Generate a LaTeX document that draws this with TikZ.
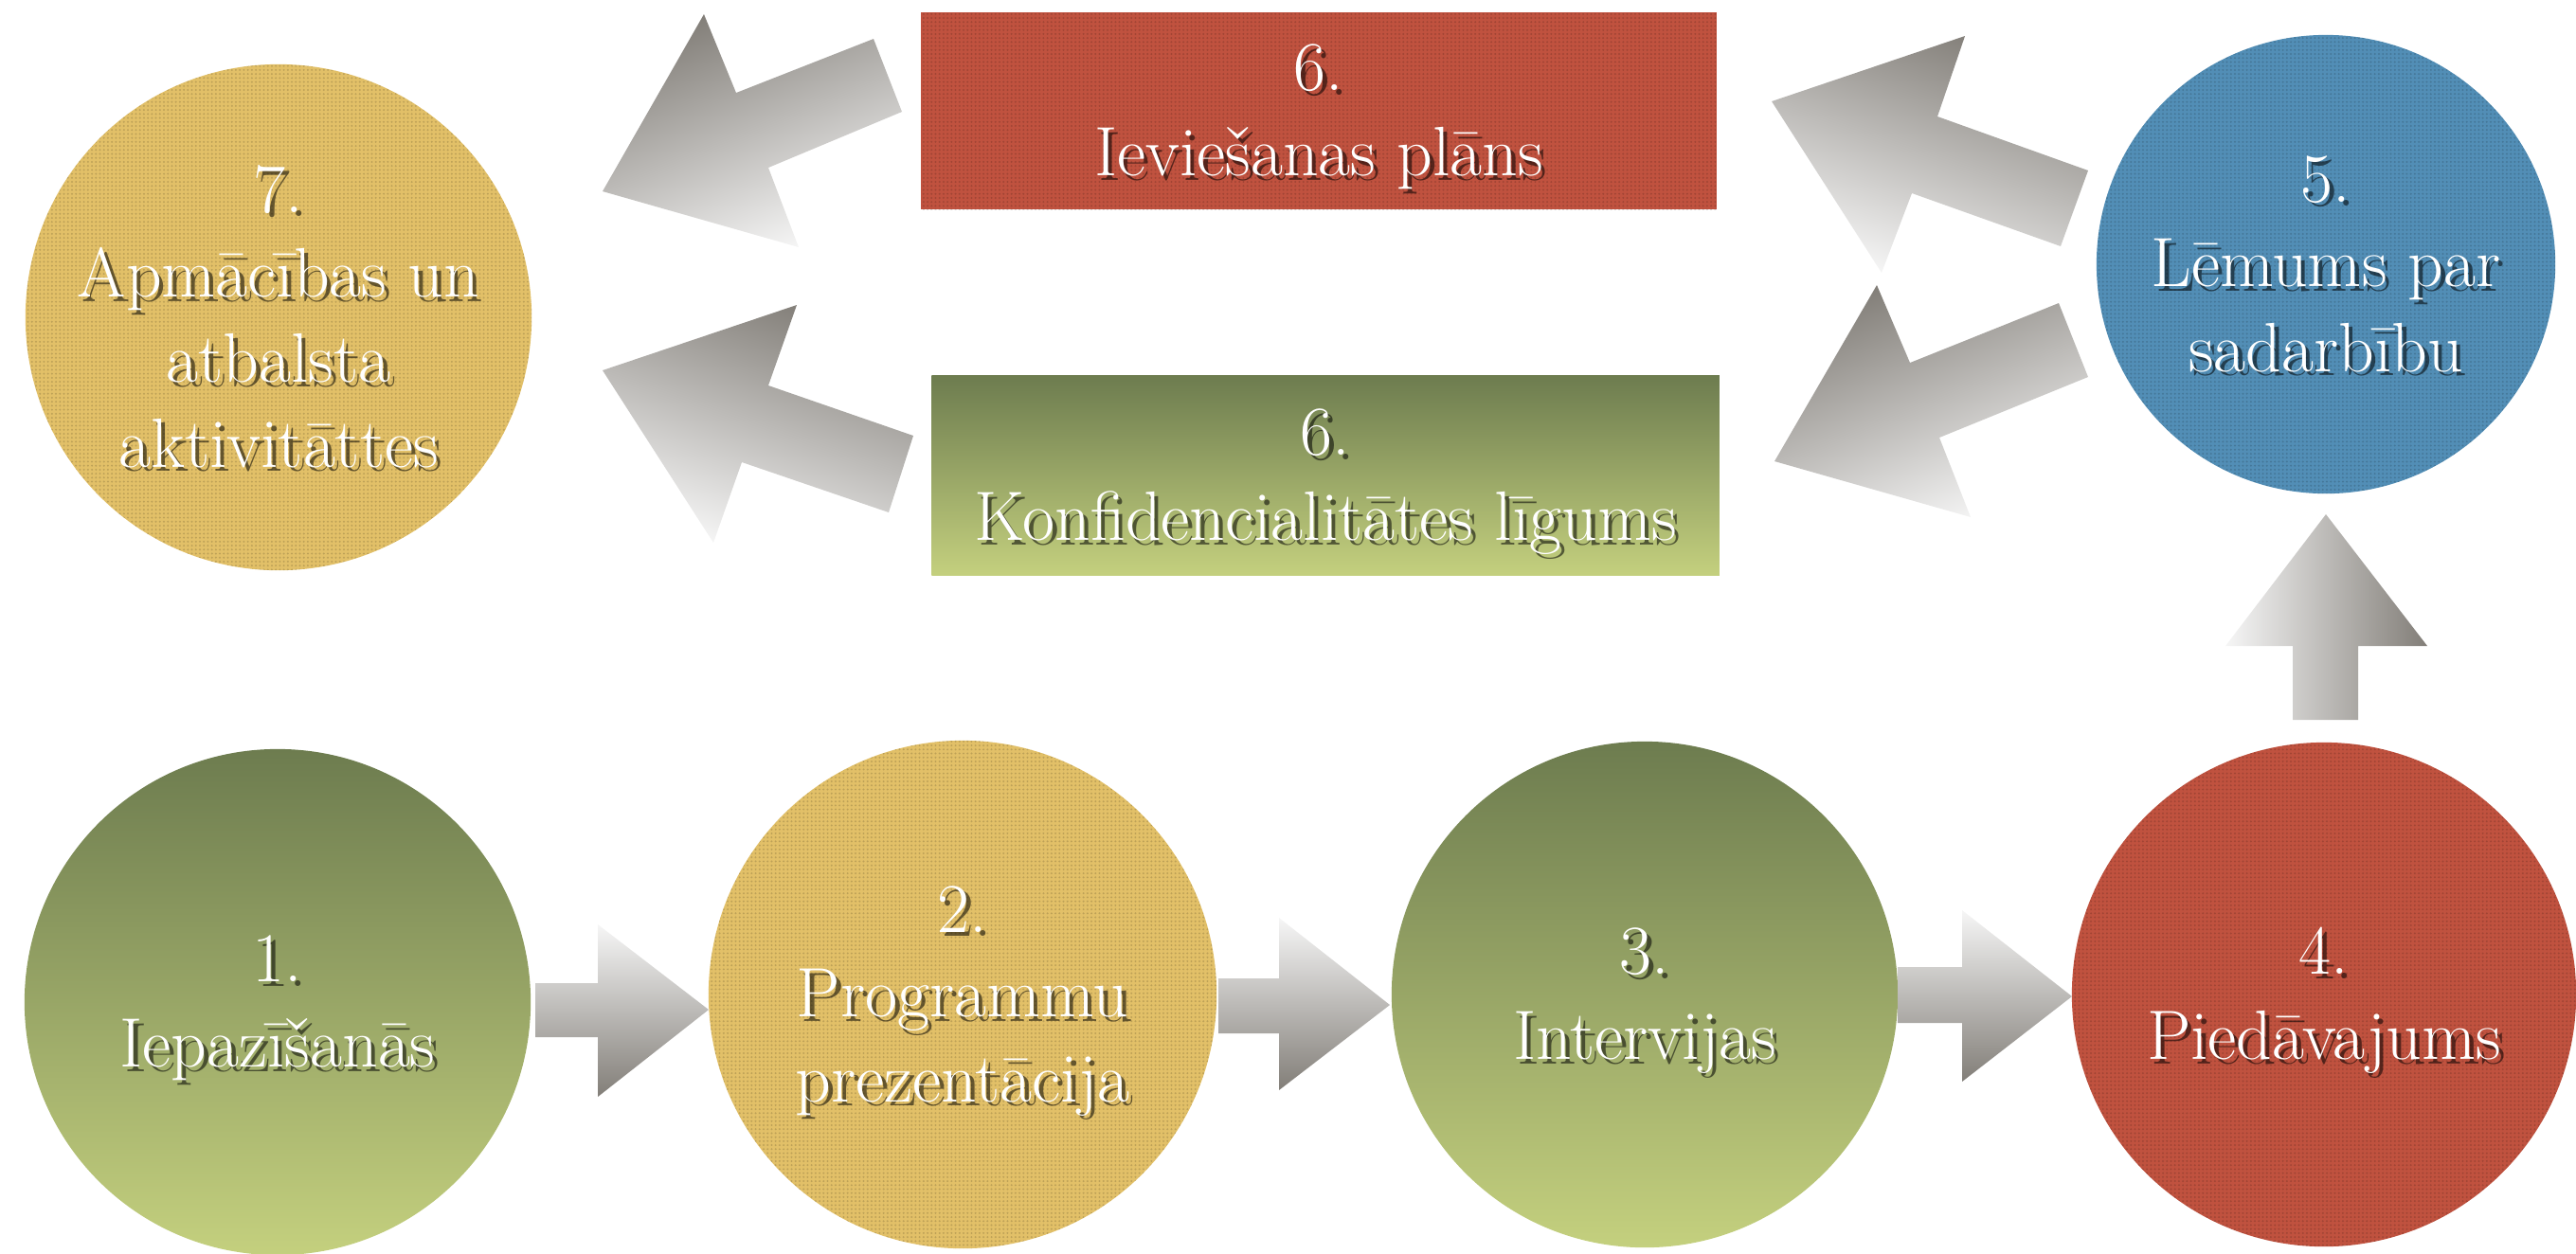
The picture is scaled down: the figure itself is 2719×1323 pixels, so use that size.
\documentclass[tikz,border=0pt]{standalone}
\usetikzlibrary{patterns}
\definecolor{yel}{RGB}{226,192,104}
\definecolor{redc}{RGB}{192,82,63}
\definecolor{bluec}{RGB}{82,142,182}
\definecolor{gtop}{RGB}{109,124,79}
\definecolor{gbot}{RGB}{196,208,126}
\definecolor{adark}{RGB}{130,126,120}
\definecolor{alight}{RGB}{246,246,246}
\pgfdeclarepatternformonly{finedots}{\pgfqpoint{-0.4pt}{-0.4pt}}{\pgfqpoint{0.4pt}{0.4pt}}{\pgfqpoint{1.2pt}{1.2pt}}{\pgfpathcircle{\pgfqpoint{0pt}{0pt}}{0.32pt}\pgfusepath{fill}}
\newcommand{\shtxt}[1]{\makebox[0pt][l]{\kern1.3pt\raisebox{-1.3pt}{\pgfsetfillopacity{0.55}\color{black}\begin{tabular}{@{}c@{}}#1\end{tabular}\pgfsetfillopacity{1}}}\begin{tabular}{@{}c@{}}#1\end{tabular}}
\tikzset{
  lbl/.style={text=white, font=\fontsize{21}{25.5}\selectfont, inner sep=0pt, yshift=-0.08cm},
  tex/.style={postaction={pattern=finedots, pattern color=black, fill opacity=0.16}},
  circ/.style={circle, inner sep=0pt, minimum size=#1},
  box/.style={rectangle, inner sep=0pt, minimum width=#1},
  ygrn/.style={top color=gtop, bottom color=gbot},
  hblk/.style={top color=alight, bottom color=adark},
  vblk/.style={left color=alight, right color=adark},
  dblk/.style={top color=adark, bottom color=alight, shading angle=#1},
}
\begin{document}
\begin{tikzpicture}[x=0.01cm, y=-0.01cm]
\useasboundingbox (0,0) rectangle (2719,1323);
% nodes
\node[circ=5.34cm, fill=yel, tex, label={[lbl]center:\shtxt{7.\\Apmācības un\\atbalsta\\aktivitāttes}}] (n7) at (294,335) {};
\node[box=8.4cm, minimum height=2.08cm, fill=redc, tex, label={[lbl]center:\shtxt{6.\\Ieviešanas plāns}}] (n6a) at (1392,117) {};
\node[box=8.31cm, minimum height=2.11cm, ygrn, label={[lbl]center:\shtxt{6.\\Konfidencialitātes līgums}}] (n6b) at (1399,502) {};
\node[circ=4.84cm, fill=bluec, tex, label={[lbl]center:\shtxt{5.\\Lēmums par\\sadarbību}}] (n5) at (2455,279) {};
\node[circ=5.34cm, ygrn, label={[lbl]center:\shtxt{1.\\Iepazīšanās}}] (n1) at (293,1058) {};
\node[circ=5.36cm, fill=yel, tex, label={[lbl]center:\shtxt{2.\\Programmu\\prezentācija}}] (n2) at (1016,1050) {};
\node[circ=5.34cm, ygrn, label={[lbl]center:\shtxt{3.\\Intervijas}}] (n3) at (1736,1050) {};
\node[circ=5.32cm, fill=redc, tex, label={[lbl]center:\shtxt{4.\\Piedāvajums}}] (n4) at (2453,1050) {};
% horizontal block arrows
\path[hblk] (565,1038) -- (631,1038) -- (631,976) -- (748,1066) -- (631,1158) -- (631,1095) -- (565,1095) -- cycle;
\path[hblk] (1286,1033) -- (1350,1033) -- (1350,969) -- (1467,1061) -- (1350,1151) -- (1350,1091) -- (1286,1091) -- cycle;
\path[hblk] (2003,1021) -- (2071,1021) -- (2071,961) -- (2187,1052) -- (2071,1142) -- (2071,1080) -- (2003,1080) -- cycle;
% up arrow
\path[vblk] (2455,543) -- (2562,682) -- (2489,682) -- (2489,760) -- (2420,760) -- (2420,682) -- (2349,682) -- cycle;
% diagonal arrows
\path[dblk=22] (636,202) -- (743,15) -- (777,98) -- (922,41) -- (952,118) -- (811,177) -- (843,261) -- cycle;
\path[dblk=-19] (636,391) -- (841,322) -- (811,407) -- (964,460) -- (938,541) -- (783,488) -- (753,573) -- cycle;
\path[dblk=-19] (1870,107) -- (2074,38) -- (2045,123) -- (2204,180) -- (2175,260) -- (2018,204) -- (1986,288) -- cycle;
\path[dblk=22] (1873,487) -- (1981,301) -- (2016,383) -- (2173,320) -- (2204,398) -- (2047,462) -- (2080,546) -- cycle;
\end{tikzpicture}
\end{document}
